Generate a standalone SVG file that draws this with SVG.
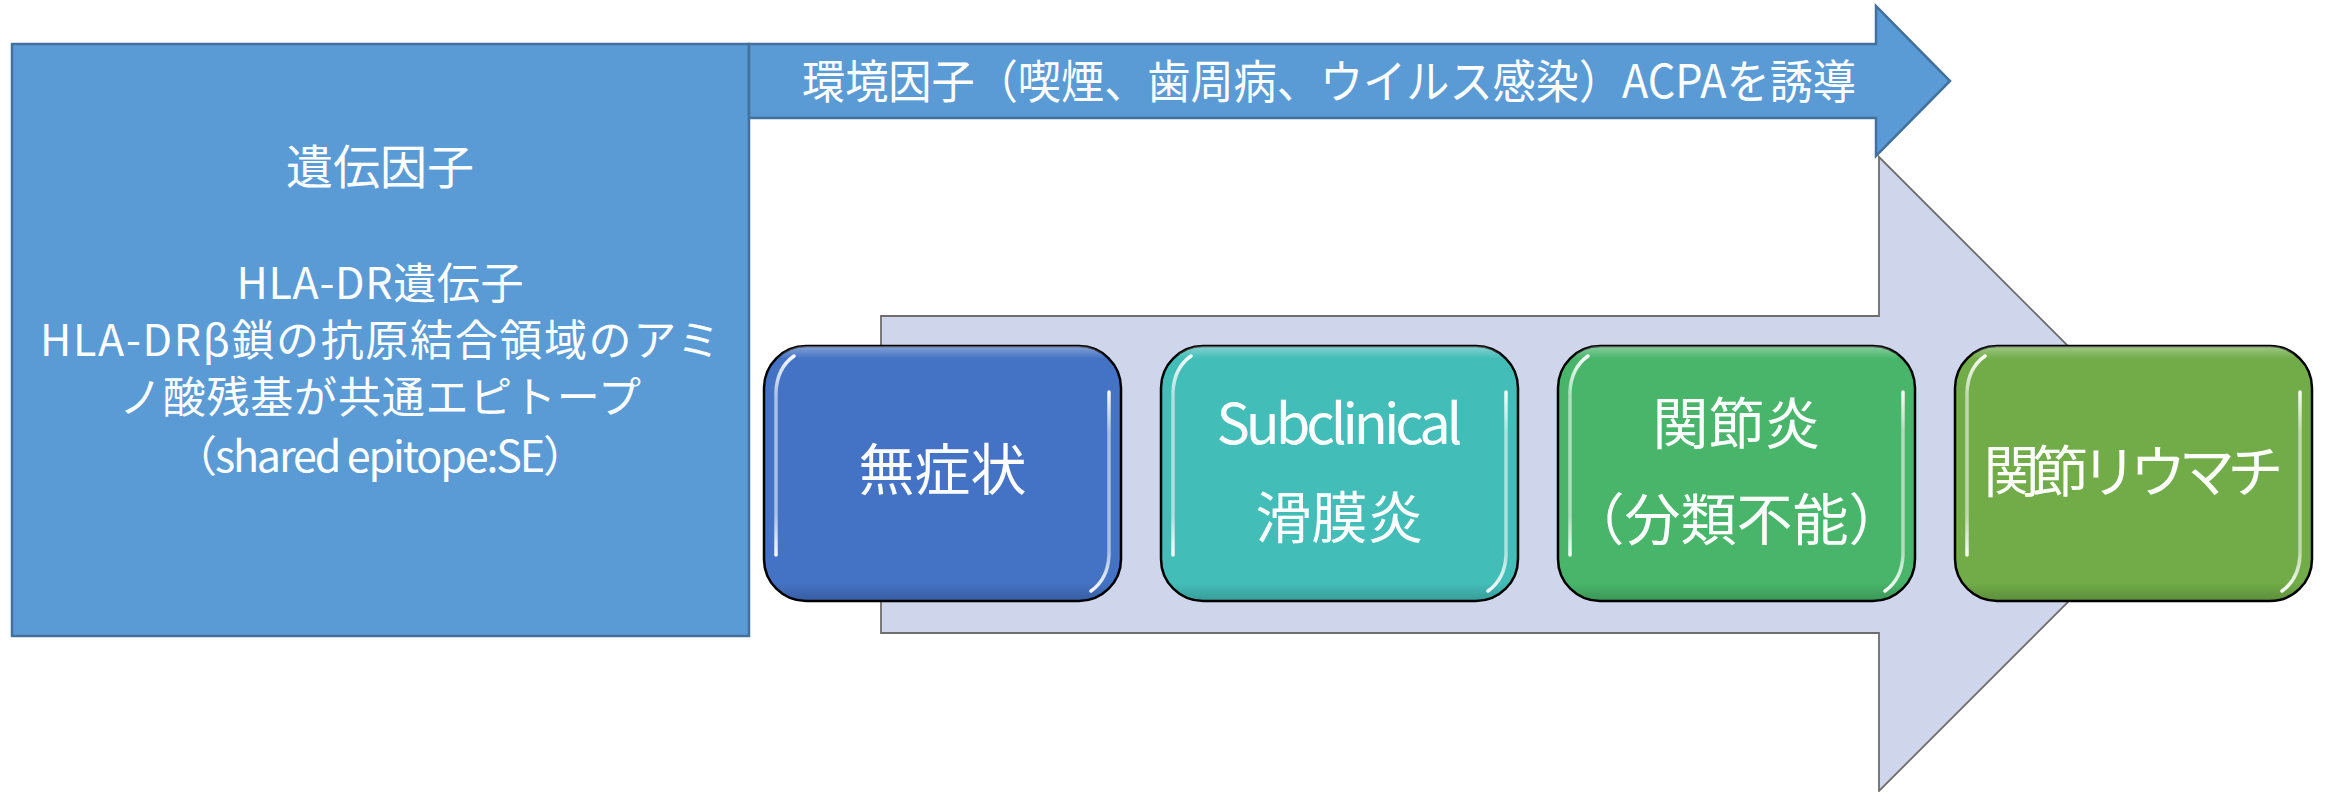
<svg xmlns="http://www.w3.org/2000/svg" width="2326" height="792" viewBox="0 0 2326 792">
  <defs>
    <style>
      .t { font-family: "Noto Sans CJK JP", "Noto Sans", sans-serif; fill: #ffffff; text-anchor: middle; }
      .blue { fill: #5B9BD5; stroke: #41719C; stroke-width: 2.5; }
      .proc { fill: #CFD5EA; stroke: #6E6E6E; stroke-width: 1.8; }
      .box { stroke: #000000; stroke-width: 2.5; }
      .hl { fill: none; stroke: url(#hlGrad); stroke-width: 3.5; stroke-linecap: round; }
    </style>
    <linearGradient id="edgeGrad" x1="0" y1="0" x2="0" y2="1">
      <stop offset="0" stop-color="#ffffff" stop-opacity="0.35"/>
      <stop offset="0.05" stop-color="#ffffff" stop-opacity="0"/>
      <stop offset="0.93" stop-color="#000000" stop-opacity="0"/>
      <stop offset="1" stop-color="#000000" stop-opacity="0.18"/>
    </linearGradient>
    <linearGradient id="hlGrad" x1="0" y1="0" x2="0" y2="1">
      <stop offset="0" stop-color="#ffffff" stop-opacity="0.95"/>
      <stop offset="0.2" stop-color="#ffffff" stop-opacity="0.55"/>
      <stop offset="0.8" stop-color="#ffffff" stop-opacity="0.55"/>
      <stop offset="1" stop-color="#ffffff" stop-opacity="0.95"/>
    </linearGradient>
  </defs>

  <rect x="0" y="0" width="2326" height="792" fill="#ffffff"/>

  <g id="connectors">
    <polygon id="process-arrow" class="proc" points="881,316 1879,316 1879,157 2196,474 1879,791 1879,633 881,633"/>
  </g>

  <g id="genetic-factor">
    <rect class="blue" x="12" y="44" width="737" height="592"/>
    <text class="t" x="380" y="184" font-size="47">遺伝因子</text>
    <text class="t" x="380" y="299" font-size="43" textLength="287" lengthAdjust="spacing">HLA-DR遺伝子</text>
    <text class="t" x="380" y="356" font-size="43" textLength="680" lengthAdjust="spacing">HLA-DRβ鎖の抗原結合領域のアミ</text>
    <text class="t" x="380" y="413" font-size="43" textLength="522" lengthAdjust="spacing">ノ酸残基が共通エピトープ</text>
    <text class="t" x="380" y="472" font-size="43" textLength="412" lengthAdjust="spacing">（shared epitope:SE）</text>
  </g>

  <g id="environmental-factor">
    <polygon class="blue" points="749,44 1876,44 1876,6 1950,81 1876,156 1876,118 749,118"/>
    <text class="t" x="1329" y="98" font-size="46" textLength="1054" lengthAdjust="spacingAndGlyphs">環境因子（喫煙、歯周病、ウイルス感染）ACPAを誘導</text>
  </g>

  <g id="stage-asymptomatic">
    <rect class="box" x="764" y="346" width="357" height="255" rx="42" fill="#4472C4"/>
    <rect x="764" y="346" width="357" height="255" rx="42" fill="url(#edgeGrad)"/>
    <path class="hl" d="M776,555 L776,392 Q777,368 794,356"/>
    <path class="hl" d="M1109,392 L1109,555 Q1108,579 1091,591"/>
    <text class="t" x="942.5" y="490" font-size="56">無症状</text>
  </g>

  <g id="stage-subclinical">
    <rect class="box" x="1161" y="346" width="357" height="255" rx="42" fill="#43BDB8"/>
    <rect x="1161" y="346" width="357" height="255" rx="42" fill="url(#edgeGrad)"/>
    <path class="hl" d="M1173,555 L1173,392 Q1174,368 1191,356"/>
    <path class="hl" d="M1506,392 L1506,555 Q1505,579 1488,591"/>
    <text class="t" x="1339.5" y="444" font-size="56" textLength="246" lengthAdjust="spacing">Subclinical</text>
    <text class="t" x="1339.5" y="538" font-size="56">滑膜炎</text>
  </g>

  <g id="stage-arthritis">
    <rect class="box" x="1558" y="346" width="357" height="255" rx="42" fill="#48B56A"/>
    <rect x="1558" y="346" width="357" height="255" rx="42" fill="url(#edgeGrad)"/>
    <path class="hl" d="M1570,555 L1570,392 Q1571,368 1588,356"/>
    <path class="hl" d="M1903,392 L1903,555 Q1902,579 1885,591"/>
    <text class="t" x="1736.5" y="444" font-size="56">関節炎</text>
    <text class="t" x="1736.5" y="540" font-size="56">（分類不能）</text>
  </g>

  <g id="stage-ra">
    <rect class="box" x="1955" y="346" width="357" height="255" rx="42" fill="#71AC48"/>
    <rect x="1955" y="346" width="357" height="255" rx="42" fill="url(#edgeGrad)"/>
    <path class="hl" d="M1967,555 L1967,392 Q1968,368 1985,356"/>
    <path class="hl" d="M2300,392 L2300,555 Q2299,579 2282,591"/>
    <text class="t" x="2133.5" y="492" font-size="56" textLength="300" lengthAdjust="spacing">関節リウマチ</text>
  </g>
</svg>
